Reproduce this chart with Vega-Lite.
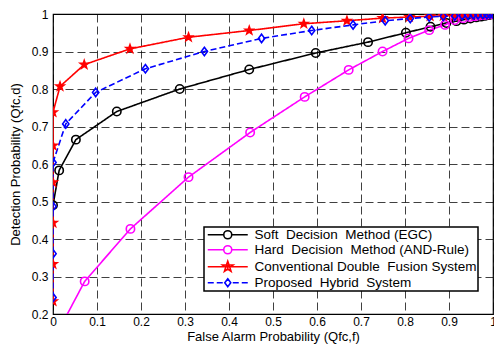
{
  "$schema": "https://vega.github.io/schema/vega-lite/v6.json",
  "width": 440,
  "height": 300,
  "autosize": {"type": "none"},
  "padding": {"left": 53, "top": 14, "right": 1, "bottom": 31},
  "background": "white",
  "config": {
    "font": "Liberation Sans",
    "view": {"stroke": "black", "strokeWidth": 1.2},
    "legend": {"strokeWidth": 1.5},
    "axis": {
      "labelFont": "Liberation Sans",
      "labelFontSize": 12,
      "labelColor": "black",
      "titleFont": "Liberation Sans",
      "titleFontSize": 13,
      "titleFontWeight": "normal",
      "titleColor": "black",
      "domain": false,
      "ticks": false,
      "grid": true,
      "gridColor": "#000000",
      "gridDash": [8, 4],
      "gridWidth": 1,
      "gridOpacity": 0.75
    }
  },
  "data": {
    "values": [
      {"s": "Soft \u00a0Decision \u00a0Method (EGC)", "x": 0, "y": 0.49},
      {"s": "Soft \u00a0Decision \u00a0Method (EGC)", "x": 0.014, "y": 0.583},
      {"s": "Soft \u00a0Decision \u00a0Method (EGC)", "x": 0.052, "y": 0.665},
      {"s": "Soft \u00a0Decision \u00a0Method (EGC)", "x": 0.145, "y": 0.74},
      {"s": "Soft \u00a0Decision \u00a0Method (EGC)", "x": 0.288, "y": 0.8},
      {"s": "Soft \u00a0Decision \u00a0Method (EGC)", "x": 0.446, "y": 0.852},
      {"s": "Soft \u00a0Decision \u00a0Method (EGC)", "x": 0.597, "y": 0.896},
      {"s": "Soft \u00a0Decision \u00a0Method (EGC)", "x": 0.716, "y": 0.925},
      {"s": "Soft \u00a0Decision \u00a0Method (EGC)", "x": 0.802, "y": 0.95},
      {"s": "Soft \u00a0Decision \u00a0Method (EGC)", "x": 0.858, "y": 0.966},
      {"s": "Soft \u00a0Decision \u00a0Method (EGC)", "x": 0.894, "y": 0.976},
      {"s": "Soft \u00a0Decision \u00a0Method (EGC)", "x": 0.917, "y": 0.981},
      {"s": "Soft \u00a0Decision \u00a0Method (EGC)", "x": 0.934, "y": 0.985},
      {"s": "Soft \u00a0Decision \u00a0Method (EGC)", "x": 0.949, "y": 0.988},
      {"s": "Soft \u00a0Decision \u00a0Method (EGC)", "x": 0.962, "y": 0.991},
      {"s": "Soft \u00a0Decision \u00a0Method (EGC)", "x": 0.973, "y": 0.993},
      {"s": "Soft \u00a0Decision \u00a0Method (EGC)", "x": 0.982, "y": 0.995},
      {"s": "Soft \u00a0Decision \u00a0Method (EGC)", "x": 0.99, "y": 0.997},
      {"s": "Soft \u00a0Decision \u00a0Method (EGC)", "x": 0.996, "y": 0.999},
      {"s": "Soft \u00a0Decision \u00a0Method (EGC)", "x": 1, "y": 1},
      {"s": "Hard \u00a0Decision \u00a0Method (AND-Rule)", "x": 0.01, "y": 0.15},
      {"s": "Hard \u00a0Decision \u00a0Method (AND-Rule)", "x": 0.072, "y": 0.287},
      {"s": "Hard \u00a0Decision \u00a0Method (AND-Rule)", "x": 0.176, "y": 0.427},
      {"s": "Hard \u00a0Decision \u00a0Method (AND-Rule)", "x": 0.308, "y": 0.565},
      {"s": "Hard \u00a0Decision \u00a0Method (AND-Rule)", "x": 0.448, "y": 0.684},
      {"s": "Hard \u00a0Decision \u00a0Method (AND-Rule)", "x": 0.572, "y": 0.779},
      {"s": "Hard \u00a0Decision \u00a0Method (AND-Rule)", "x": 0.672, "y": 0.851},
      {"s": "Hard \u00a0Decision \u00a0Method (AND-Rule)", "x": 0.749, "y": 0.9},
      {"s": "Hard \u00a0Decision \u00a0Method (AND-Rule)", "x": 0.808, "y": 0.935},
      {"s": "Hard \u00a0Decision \u00a0Method (AND-Rule)", "x": 0.855, "y": 0.957},
      {"s": "Hard \u00a0Decision \u00a0Method (AND-Rule)", "x": 0.891, "y": 0.971},
      {"s": "Hard \u00a0Decision \u00a0Method (AND-Rule)", "x": 0.913, "y": 0.984},
      {"s": "Hard \u00a0Decision \u00a0Method (AND-Rule)", "x": 0.932, "y": 0.989},
      {"s": "Hard \u00a0Decision \u00a0Method (AND-Rule)", "x": 0.947, "y": 0.992},
      {"s": "Hard \u00a0Decision \u00a0Method (AND-Rule)", "x": 0.959, "y": 0.994},
      {"s": "Hard \u00a0Decision \u00a0Method (AND-Rule)", "x": 0.969, "y": 0.996},
      {"s": "Hard \u00a0Decision \u00a0Method (AND-Rule)", "x": 0.978, "y": 0.997},
      {"s": "Hard \u00a0Decision \u00a0Method (AND-Rule)", "x": 0.986, "y": 0.998},
      {"s": "Hard \u00a0Decision \u00a0Method (AND-Rule)", "x": 0.993, "y": 0.999},
      {"s": "Hard \u00a0Decision \u00a0Method (AND-Rule)", "x": 1, "y": 1},
      {"s": "Conventional Double \u00a0Fusion System", "x": 0, "y": 0.234},
      {"s": "Conventional Double \u00a0Fusion System", "x": 0, "y": 0.333},
      {"s": "Conventional Double \u00a0Fusion System", "x": 0, "y": 0.443},
      {"s": "Conventional Double \u00a0Fusion System", "x": 0, "y": 0.551},
      {"s": "Conventional Double \u00a0Fusion System", "x": 0, "y": 0.649},
      {"s": "Conventional Double \u00a0Fusion System", "x": 0, "y": 0.738},
      {"s": "Conventional Double \u00a0Fusion System", "x": 0.016, "y": 0.807},
      {"s": "Conventional Double \u00a0Fusion System", "x": 0.071, "y": 0.865},
      {"s": "Conventional Double \u00a0Fusion System", "x": 0.175, "y": 0.907},
      {"s": "Conventional Double \u00a0Fusion System", "x": 0.308, "y": 0.938},
      {"s": "Conventional Double \u00a0Fusion System", "x": 0.446, "y": 0.956},
      {"s": "Conventional Double \u00a0Fusion System", "x": 0.57, "y": 0.974},
      {"s": "Conventional Double \u00a0Fusion System", "x": 0.668, "y": 0.982},
      {"s": "Conventional Double \u00a0Fusion System", "x": 0.749, "y": 0.989},
      {"s": "Conventional Double \u00a0Fusion System", "x": 0.81, "y": 0.992},
      {"s": "Conventional Double \u00a0Fusion System", "x": 0.857, "y": 0.994},
      {"s": "Conventional Double \u00a0Fusion System", "x": 0.887, "y": 0.995},
      {"s": "Conventional Double \u00a0Fusion System", "x": 0.913, "y": 0.996},
      {"s": "Conventional Double \u00a0Fusion System", "x": 0.932, "y": 0.997},
      {"s": "Conventional Double \u00a0Fusion System", "x": 0.947, "y": 0.998},
      {"s": "Conventional Double \u00a0Fusion System", "x": 0.96, "y": 0.998},
      {"s": "Conventional Double \u00a0Fusion System", "x": 0.971, "y": 0.999},
      {"s": "Conventional Double \u00a0Fusion System", "x": 0.98, "y": 0.999},
      {"s": "Conventional Double \u00a0Fusion System", "x": 0.988, "y": 1},
      {"s": "Conventional Double \u00a0Fusion System", "x": 0.995, "y": 1},
      {"s": "Conventional Double \u00a0Fusion System", "x": 1, "y": 1},
      {"s": "Proposed \u00a0Hybrid \u00a0System", "x": 0, "y": 0.244},
      {"s": "Proposed \u00a0Hybrid \u00a0System", "x": 0, "y": 0.361},
      {"s": "Proposed \u00a0Hybrid \u00a0System", "x": 0, "y": 0.487},
      {"s": "Proposed \u00a0Hybrid \u00a0System", "x": 0, "y": 0.604},
      {"s": "Proposed \u00a0Hybrid \u00a0System", "x": 0.029, "y": 0.707},
      {"s": "Proposed \u00a0Hybrid \u00a0System", "x": 0.097, "y": 0.791},
      {"s": "Proposed \u00a0Hybrid \u00a0System", "x": 0.21, "y": 0.854},
      {"s": "Proposed \u00a0Hybrid \u00a0System", "x": 0.344, "y": 0.9},
      {"s": "Proposed \u00a0Hybrid \u00a0System", "x": 0.474, "y": 0.935},
      {"s": "Proposed \u00a0Hybrid \u00a0System", "x": 0.588, "y": 0.956},
      {"s": "Proposed \u00a0Hybrid \u00a0System", "x": 0.682, "y": 0.971},
      {"s": "Proposed \u00a0Hybrid \u00a0System", "x": 0.755, "y": 0.982},
      {"s": "Proposed \u00a0Hybrid \u00a0System", "x": 0.812, "y": 0.988},
      {"s": "Proposed \u00a0Hybrid \u00a0System", "x": 0.855, "y": 0.992},
      {"s": "Proposed \u00a0Hybrid \u00a0System", "x": 0.887, "y": 0.994},
      {"s": "Proposed \u00a0Hybrid \u00a0System", "x": 0.913, "y": 0.995},
      {"s": "Proposed \u00a0Hybrid \u00a0System", "x": 0.93, "y": 0.996},
      {"s": "Proposed \u00a0Hybrid \u00a0System", "x": 0.943, "y": 0.997},
      {"s": "Proposed \u00a0Hybrid \u00a0System", "x": 0.955, "y": 0.998},
      {"s": "Proposed \u00a0Hybrid \u00a0System", "x": 0.966, "y": 0.998},
      {"s": "Proposed \u00a0Hybrid \u00a0System", "x": 0.977, "y": 0.999},
      {"s": "Proposed \u00a0Hybrid \u00a0System", "x": 0.986, "y": 0.999},
      {"s": "Proposed \u00a0Hybrid \u00a0System", "x": 0.993, "y": 1},
      {"s": "Proposed \u00a0Hybrid \u00a0System", "x": 1, "y": 1}
    ]
  },
  "encoding": {
    "x": {
      "field": "x",
      "type": "quantitative",
      "scale": {"domain": [0, 1], "nice": false},
      "axis": {
        "title": "False Alarm Probability (Qfc,f)",
        "values": [0, 0.1, 0.2, 0.3, 0.4, 0.5, 0.6, 0.7, 0.8, 0.9, 1],
        "format": ".1~f",
        "labelPadding": 2,
        "titlePadding": 3,
        "labelFlush": false,
        "labelOverlap": false
      }
    },
    "y": {
      "field": "y",
      "type": "quantitative",
      "scale": {"domain": [0.2, 1], "nice": false, "zero": false},
      "axis": {
        "title": "Detection Probability (Qfc,d)",
        "values": [0.2, 0.3, 0.4, 0.5, 0.6, 0.7, 0.8, 0.9, 1],
        "format": ".1~f",
        "labelPadding": 5,
        "titlePadding": 9,
        "labelFlush": false,
        "labelOverlap": false
      }
    }
  },
  "layer": [
    {
      "mark": {"type": "line", "clip": true, "strokeWidth": 1.6},
      "encoding": {
        "color": {
          "field": "s",
          "type": "nominal",
          "scale": {
            "domain": ["Soft \u00a0Decision \u00a0Method (EGC)", "Hard \u00a0Decision \u00a0Method (AND-Rule)", "Conventional Double \u00a0Fusion System", "Proposed \u00a0Hybrid \u00a0System"],
            "range": ["#000000", "#ff00ff", "#ff0000", "#0000ff"]
          },
          "legend": null
        },
        "strokeDash": {
          "field": "s",
          "type": "nominal",
          "scale": {
            "domain": ["Soft \u00a0Decision \u00a0Method (EGC)", "Hard \u00a0Decision \u00a0Method (AND-Rule)", "Conventional Double \u00a0Fusion System", "Proposed \u00a0Hybrid \u00a0System"],
            "range": [[1, 0], [1, 0], [1, 0], [6, 3]]
          },
          "legend": null
        }
      }
    },
    {
      "mark": {"type": "point", "clip": true, "filled": false, "strokeWidth": 1.6, "opacity": 1},
      "encoding": {
        "color": {"field": "s", "type": "nominal", "legend": null},
        "fill": {
          "field": "s",
          "type": "nominal",
          "scale": {
            "domain": ["Soft \u00a0Decision \u00a0Method (EGC)", "Hard \u00a0Decision \u00a0Method (AND-Rule)", "Conventional Double \u00a0Fusion System", "Proposed \u00a0Hybrid \u00a0System"],
            "range": ["transparent", "transparent", "#ff0000", "transparent"]
          },
          "legend": null
        },
        "shape": {
          "field": "s",
          "type": "nominal",
          "scale": {
            "domain": ["Soft \u00a0Decision \u00a0Method (EGC)", "Hard \u00a0Decision \u00a0Method (AND-Rule)", "Conventional Double \u00a0Fusion System", "Proposed \u00a0Hybrid \u00a0System"],
            "range": ["circle", "circle", "M0,-1L0.235,-0.324L0.951,-0.309L0.38,0.124L0.588,0.809L0,0.4L-0.588,0.809L-0.38,0.124L-0.951,-0.309L-0.235,-0.324Z", "M0,-1L0.75,0L0,1L-0.75,0Z"]
          },
          "legend": null
        },
        "size": {
          "field": "s",
          "type": "nominal",
          "scale": {
            "domain": ["Soft \u00a0Decision \u00a0Method (EGC)", "Hard \u00a0Decision \u00a0Method (AND-Rule)", "Conventional Double \u00a0Fusion System", "Proposed \u00a0Hybrid \u00a0System"],
            "range": [70, 70, 130, 70]
          },
          "legend": null
        }
      }
    },
    {
      "transform": [{"filter": "false"}],
      "mark": {"type": "point", "filled": false, "strokeWidth": 1.6},
      "encoding": {
        "stroke": {
          "field": "s",
          "type": "nominal",
          "scale": {
            "domain": ["Soft \u00a0Decision \u00a0Method (EGC)", "Hard \u00a0Decision \u00a0Method (AND-Rule)", "Conventional Double \u00a0Fusion System", "Proposed \u00a0Hybrid \u00a0System"],
            "range": ["#000000", "#ff00ff", "#ff0000", "#0000ff"]
          },
          "legend": {
            "orient": "none",
            "legendX": 151,
            "legendY": 213,
            "title": null,
            "direction": "vertical",
            "fillColor": "white",
            "strokeColor": "black",
            "padding": 1,
            "labelFont": "Liberation Sans",
            "labelFontSize": 13.5,
            "labelColor": "black",
            "labelLimit": 400,
            "symbolSize": 64,
            "symbolStrokeWidth": 1.6,
            "symbolOpacity": 1,
            "symbolOffset": 16,
            "labelOffset": 20,
            "rowPadding": 0
          }
        },
        "shape": {
          "field": "s",
          "type": "nominal",
          "scale": {
            "domain": ["Soft \u00a0Decision \u00a0Method (EGC)", "Hard \u00a0Decision \u00a0Method (AND-Rule)", "Conventional Double \u00a0Fusion System", "Proposed \u00a0Hybrid \u00a0System"],
            "range": [
              "M-5,0H-1M1,0H5M1,0A1,1 0 1 1 -1,0A1,1 0 1 1 1,0Z",
              "M-5,0H-1M1,0H5M1,0A1,1 0 1 1 -1,0A1,1 0 1 1 1,0Z",
              "M-5,0H5M0,-1.4L0.33,-0.45L1.33,-0.43L0.53,0.17L0.82,1.13L0,0.56L-0.82,1.13L-0.53,0.17L-1.33,-0.43L-0.33,-0.45ZM0,-0.6L0,0.5M-0.6,-0.1L0.6,-0.1",
              "M-5,0H-3.5M-2.75,0H-1.25M1.25,0H2.75M3.5,0H5M0,-1L0.75,0L0,1L-0.75,0Z"
            ]
          },
          "legend": {
            "orient": "none",
            "legendX": 151,
            "legendY": 213,
            "title": null,
            "direction": "vertical",
            "fillColor": "white",
            "strokeColor": "black",
            "padding": 1,
            "labelFont": "Liberation Sans",
            "labelFontSize": 13.5,
            "labelColor": "black",
            "labelLimit": 400,
            "symbolSize": 64,
            "symbolStrokeWidth": 1.6,
            "symbolOpacity": 1,
            "symbolOffset": 16,
            "labelOffset": 20,
            "rowPadding": 0
          }
        }
      }
    }
  ],
  "resolve": {"scale": {"shape": "independent", "stroke": "independent"}}
}
